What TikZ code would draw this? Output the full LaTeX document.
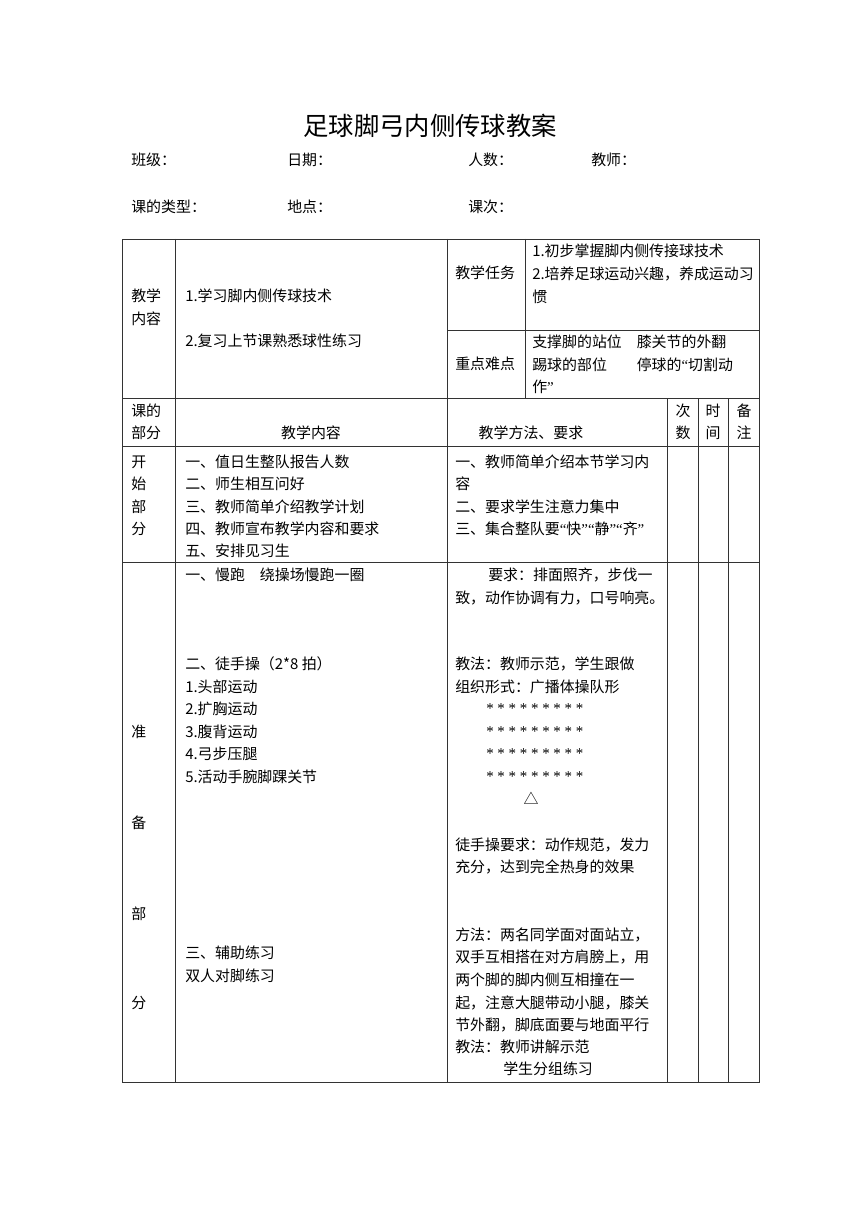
\documentclass[tikz,border=0pt]{standalone}
\usepackage{fontspec}
\setmainfont{Noto Sans CJK SC}
\newfontfamily\latinf{Liberation Serif}
\usepackage{tikz}
\usetikzlibrary{positioning}

\newcommand{\bodysz}{\fontsize{11.2}{16}\selectfont}
\newcommand{\titlesz}{\fontsize{19}{24}\selectfont}
\newcommand{\oq}{{\latinf “}}
\newcommand{\cq}{{\latinf ”}}

\begin{document}
\begin{tikzpicture}[x=0.75pt,y=-0.75pt,
    rule/.style={draw=black!80,line width=0.6pt},
    txt/.style={anchor=west,inner sep=0pt,font=\bodysz},
    ctxt/.style={anchor=center,inner sep=0pt,font=\bodysz}]
  \useasboundingbox[fill=white] (0,0) rectangle (860,1216);

  % title and header
  \node[anchor=center,inner sep=0pt,font=\titlesz] (title) at (430,126) {足球脚弓内侧传球教案};
  \node[txt] (cls) at (131,160) {班级：};
  \node[txt] (date) at (287,160) {日期：};
  \node[txt] (num) at (468,160) {人数：};
  \node[txt] (tch) at (591,160) {教师：};
  \node[txt] (type) at (131,207) {课的类型：};
  \node[txt] (place) at (287,207) {地点：};
  \node[txt] (times) at (468,207) {课次：};

  % table frame
  \draw[rule] (122,239) rectangle (759,1082);
  \draw[rule] (122,398) -- (759,398);
  \draw[rule] (122,446) -- (759,446);
  \draw[rule] (122,562) -- (759,562);
  \draw[rule] (447,330) -- (759,330);
  \draw[rule] (175,239) -- (175,1082);
  \draw[rule] (447,239) -- (447,1082);
  \draw[rule] (525,239) -- (525,398);
  \foreach \cx in {667,698,728}
    \draw[rule] (\cx,398) -- (\cx,1082);

  % top block
  \node[txt] (jx1) at (131,296) {教学};
  \node[txt] (jx2) at (131,319) {内容};
  \node[txt] (nr1) at (185,296) {1.学习脚内侧传球技术};
  \node[txt] (nr2) at (185,341) {2.复习上节课熟悉球性练习};
  \node[txt] (rw) at (455,273) {教学任务};
  \node[txt] (rw1) at (532,251) {1.初步掌握脚内侧传接球技术};
  \node[txt] (rw2) at (532,274) {2.培养足球运动兴趣，养成运动习};
  \node[txt] (rw3) at (532,297) {惯};
  \node[txt] (zd) at (455,364) {重点难点};
  \node[txt] (zd1) at (532,342) {支撑脚的站位\hspace{1em}膝关节的外翻};
  \node[txt] (zd2) at (532,365) {踢球的部位\hspace{2em}停球的\oq 切割动};
  \node[txt] (zd3) at (532,387) {作\cq};

  % column heads
  \node[txt] (kb1) at (131,411) {课的};
  \node[txt] (kb2) at (131,433) {部分};
  \node[ctxt] (hnr) at (311,433) {教学内容};
  \node[ctxt] (hff) at (531,433) {教学方法、要求};
  \node[ctxt] (hc1) at (683,411) {次};
  \node[ctxt] (hc2) at (683,433) {数};
  \node[ctxt] (hs1) at (713,411) {时};
  \node[ctxt] (hs2) at (713,433) {间};
  \node[ctxt] (hb1) at (744,411) {备};
  \node[ctxt] (hb2) at (744,433) {注};

  % start part
  \node[txt] (ks1) at (131,462) {开};
  \node[txt] (ks2) at (131,484) {始};
  \node[txt] (ks3) at (131,507) {部};
  \node[txt] (ks4) at (131,529) {分};
  \node[txt] (kn1) at (185,462) {一、值日生整队报告人数};
  \node[txt] (kn2) at (185,484) {二、师生相互问好};
  \node[txt] (kn3) at (185,507) {三、教师简单介绍教学计划};
  \node[txt] (kn4) at (185,529) {四、教师宣布教学内容和要求};
  \node[txt] (kn5) at (185,551) {五、安排见习生};
  \node[txt] (kf1) at (455,462) {一、教师简单介绍本节学习内};
  \node[txt] (kf2) at (455,484) {容};
  \node[txt] (kf3) at (455,507) {二、要求学生注意力集中};
  \node[txt] (kf4) at (455,529) {三、集合整队要\oq 快\cq\oq 静\cq\oq 齐\cq};

  % preparation part
  \node[txt] (zb1) at (131,732) {准};
  \node[txt] (zb2) at (131,823) {备};
  \node[txt] (zb3) at (131,914) {部};
  \node[txt] (zb4) at (131,1003) {分};
  \node[txt] (zn1) at (185,575) {一、慢跑\hspace{1em}绕操场慢跑一圈};
  \node[txt] (zn2) at (185,664) {二、徒手操（2*8 拍）};
  \node[txt] (zn3) at (185,687) {1.头部运动};
  \node[txt] (zn4) at (185,709) {2.扩胸运动};
  \node[txt] (zn5) at (185,732) {3.腹背运动};
  \node[txt] (zn6) at (185,754) {4.弓步压腿};
  \node[txt] (zn7) at (185,777) {5.活动手腕脚踝关节};
  \node[txt] (zn8) at (185,953) {三、辅助练习};
  \node[txt] (zn9) at (185,976) {双人对脚练习};
  \node[txt] (zf1) at (488,575) {要求：排面照齐，步伐一};
  \node[txt] (zf2) at (455,598) {致，动作协调有力，口号响亮。};
  \node[txt] (zf3) at (455,664) {教法：教师示范，学生跟做};
  \node[txt] (zf4) at (455,687) {组织形式：广播体操队形};
  \foreach \yy [count=\i] in {709,732,754,777}
    \node[txt,font=\bodysz\latinf] (star\i) at (486,\yy) {* * * * * * * * *};
  \node[ctxt] (tri) at (531,798) {△};
  \node[txt] (zf5) at (455,845) {徒手操要求：动作规范，发力};
  \node[txt] (zf6) at (455,867) {充分，达到完全热身的效果};
  \node[txt] (zf7) at (455,935) {方法：两名同学面对面站立，};
  \node[txt] (zf8) at (455,957) {双手互相搭在对方肩膀上，用};
  \node[txt] (zf9) at (455,980) {两个脚的脚内侧互相撞在一};
  \node[txt] (zf10) at (455,1003) {起，注意大腿带动小腿，膝关};
  \node[txt] (zf11) at (455,1025) {节外翻，脚底面要与地面平行};
  \node[txt] (zf12) at (455,1047) {教法：教师讲解示范};
  \node[txt] (zf13) at (503,1069) {学生分组练习};
\end{tikzpicture}
\end{document}
